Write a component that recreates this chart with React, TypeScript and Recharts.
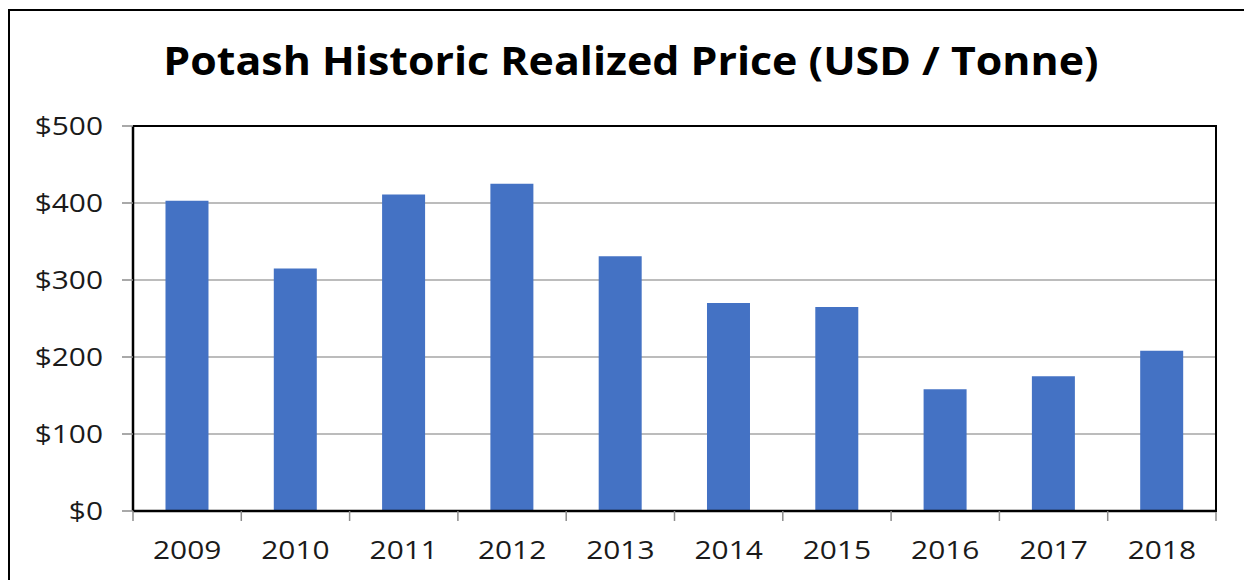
import { BarChart, Bar, XAxis, YAxis, CartesianGrid } from "recharts";

const years = ["2009", "2010", "2011", "2012", "2013", "2014", "2015", "2016", "2017", "2018"];
const prices = [403, 315, 411, 425, 331, 270, 265, 158, 175, 208];
const yTicks = [0, 100, 200, 300, 400, 500];

const data = years.map((year, i) => ({ year, price: prices[i] }));

const W = 1244;
const H = 580;
const PLOT_LEFT = 133;
const PLOT_RIGHT = 1216;
const PLOT_TOP = 126;
const PLOT_BOTTOM = 511;
const BAND = (PLOT_RIGHT - PLOT_LEFT) / years.length;
const STRETCH = 1.15;

const font = "'Open Sans', sans-serif";

function YearTick(props: any) {
    const { x, y, payload, index } = props;
    const left = x - BAND / 2;
    return (
        <g>
            <line x1={left} y1={y} x2={left} y2={y + 10} stroke="#8c8c8c" strokeWidth={1.5} />
            {index === years.length - 1 && (
                <line x1={x + BAND / 2} y1={y} x2={x + BAND / 2} y2={y + 10} stroke="#8c8c8c" strokeWidth={1.5} />
            )}
            <g transform={`translate(${x},${y + 48}) scale(${STRETCH},1)`}>
                <text x={0} y={0} textAnchor="middle" fill="#1a1a1a" fontSize={26} fontFamily={font}>
                    {payload.value}
                </text>
            </g>
        </g>
    );
}

function PriceTick(props: any) {
    const { x, y, payload } = props;
    return (
        <g transform={`translate(${x},${y + 9}) scale(${STRETCH},1)`}>
            <text x={0} y={0} textAnchor="end" fill="#1a1a1a" fontSize={26} fontFamily={font}>
                {`$${payload.value}`}
            </text>
        </g>
    );
}

export default function App() {
    return (
        <div style={{ position: "absolute", left: 0, top: 0, width: W, height: H, background: "#fff", overflow: "hidden" }}>
            <div
                style={{
                    position: "absolute",
                    left: 8,
                    top: 9,
                    width: W,
                    height: H,
                    borderLeft: "2px solid #000",
                    borderTop: "2px solid #000",
                }}
            />
            <div
                style={{
                    position: "absolute",
                    left: 0,
                    width: 1262,
                    top: 34,
                    textAlign: "center",
                    fontFamily: font,
                    fontWeight: 700,
                    fontSize: 39,
                    lineHeight: "52px",
                    color: "#000",
                    transform: "scaleX(1.1)",
                    transformOrigin: "631px 0",
                }}
            >
                Potash Historic Realized Price (USD / Tonne)
            </div>
            <div style={{ position: "absolute", left: 0, top: 0 }}>
                <BarChart width={W} height={H} data={data} margin={{ top: PLOT_TOP, right: W - PLOT_RIGHT, bottom: 0, left: 0 }} barCategoryGap="30%">
                    <CartesianGrid vertical={false} stroke="#a6a6a6" strokeWidth={1.5} />
                    <XAxis
                        dataKey="year"
                        height={H - PLOT_BOTTOM}
                        axisLine={{ stroke: "#000", strokeWidth: 2.5 }}
                        tickLine={false}
                        tickSize={0}
                        tickMargin={0}
                        tick={<YearTick />}
                        interval={0}
                    />
                    <YAxis
                        domain={[0, 500]}
                        ticks={yTicks}
                        width={PLOT_LEFT}
                        axisLine={{ stroke: "#000", strokeWidth: 2.5 }}
                        tickLine={{ stroke: "#8c8c8c", strokeWidth: 1.5 }}
                        tickSize={11}
                        tickMargin={19}
                        tick={<PriceTick />}
                    />
                    <Bar dataKey="price" fill="#4472C4" isAnimationActive={false} />
                </BarChart>
            </div>
            <div
                style={{
                    position: "absolute",
                    left: PLOT_LEFT,
                    top: PLOT_TOP - 1,
                    width: PLOT_RIGHT - PLOT_LEFT - 1,
                    height: PLOT_BOTTOM - PLOT_TOP,
                    borderTop: "2.5px solid #000",
                    borderRight: "2.5px solid #000",
                    pointerEvents: "none",
                }}
            />
        </div>
    );
}
